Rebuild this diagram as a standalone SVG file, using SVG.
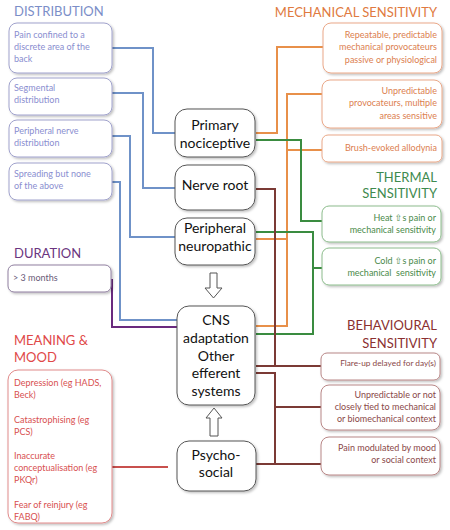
<svg xmlns="http://www.w3.org/2000/svg" width="450" height="530" viewBox="0 0 450 530">
<defs>
<filter id="sh" x="-10%" y="-10%" width="130%" height="130%">
<feDropShadow dx="1.5" dy="1.5" stdDeviation="1" flood-color="#000" flood-opacity="0.25"/>
</filter>
<style>
text{font-family:Lato,"Liberation Sans","DejaVu Sans",sans-serif}
.title{font-size:13px}
.small{font-size:9px}
.tight{font-size:8.3px}
.big{font-size:14px;fill:#111;text-anchor:middle}
.r{text-anchor:end}
rect{fill:#fff;filter:url(#sh)}
.cbox{stroke:#555;stroke-width:1}
.bl{stroke:#a0a2cc;stroke-width:1}
.blt{fill:#8a8ed0}
.pu{stroke:#8f7f9f;stroke-width:1}
.put{fill:#6a5a78}
.or{stroke:#eaa888;stroke-width:1}
.ort{fill:#dc8050}
.gr{stroke:#8cbc8c;stroke-width:1}
.grt{fill:#4a8a4a}
.br{stroke:#b88686;stroke-width:1}
.brt{fill:#8a4848}
.rd{stroke:#e08a8a;stroke-width:1}
.rdt{fill:#d85050}
#connectors path{fill:none;stroke-width:2}
.cb{stroke:#6f92c8}
.cp{stroke:#6a2a7e}
.co{stroke:#e8904a}
.cg{stroke:#3a8c40}
.cr{stroke:#7b3a35}
.cred{stroke:#c8504d}
.arrow{fill:#fff;stroke:#555;stroke-width:1}
</style>
</defs>
<rect x="0" y="0" width="450" height="530" style="fill:#fff;filter:none"/>

<g id="connectors">
<path class="cb" d="M112,48 H153 V133 H175"/>
<path class="cb" d="M112,93 H143 V188 H175"/>
<path class="cb" d="M112,136 H130 V237 H175"/>
<path class="cb" d="M112,182 H120 V320 H177"/>
<path class="cp" d="M112,279 V327 H177"/>
<path class="cred" d="M112,467 H168"/>
<path class="co" d="M256,133 H277 V47 H323"/>
<path class="co" d="M322,94 H287 V326 H256"/>
<path class="co" d="M287,150 H322"/>
<path class="co" d="M256,239 H287"/>
<path class="cg" d="M256,140 H301 V221 H322"/>
<path class="cg" d="M256,232 H313 V334 H256"/>
<path class="cg" d="M313,268 H322"/>
<path class="cr" d="M256,189 H275 V366"/>
<path class="cr" d="M256,366 H321"/>
<path class="cr" d="M256,373 H275 V464"/>
<path class="cr" d="M275,407 H321"/>
<path class="cr" d="M256,464 H321"/>
</g>

<g id="title-distribution"><text class="title" x="14" y="16" fill="#7b8ec8">DISTRIBUTION</text></g>
<g id="title-mechanical"><text class="title r" x="437" y="17" fill="#e07a40">MECHANICAL SENSITIVITY</text></g>
<g id="title-thermal"><text class="title r" x="437" y="182" fill="#3e8a4e">THERMAL</text><text class="title r" x="437" y="198" fill="#3e8a4e">SENSITIVITY</text></g>
<g id="title-duration"><text class="title" x="14" y="258" fill="#6b3580">DURATION</text></g>
<g id="title-meaning"><text class="title" x="14" y="345" fill="#e04848">MEANING &amp;</text><text class="title" x="14" y="362" fill="#e04848">MOOD</text></g>
<g id="title-behavioural"><text class="title r" x="437" y="330" fill="#8b3030">BEHAVIOURAL</text><text class="title r" x="437" y="348" fill="#8b3030">SENSITIVITY</text></g>

<g id="dist1"><rect class="bl" x="9" y="23" width="103" height="50" rx="8"/>
<text class="small blt" x="14" y="38">Pain confined to a</text><text class="small blt" x="14" y="50">discrete area of the</text><text class="small blt" x="14" y="62">back</text></g>
<g id="dist2"><rect class="bl" x="9" y="78" width="103" height="37" rx="8"/>
<text class="small blt" x="14" y="91">Segmental</text><text class="small blt" x="14" y="103">distribution</text></g>
<g id="dist3"><rect class="bl" x="9" y="120" width="103" height="37" rx="8"/>
<text class="small blt" x="14" y="134">Peripheral nerve</text><text class="small blt" x="14" y="146">distribution</text></g>
<g id="dist4"><rect class="bl" x="9" y="163" width="103" height="37" rx="8"/>
<text class="small blt" x="14" y="177">Spreading but none</text><text class="small blt" x="14" y="189">of the above</text></g>

<g id="duration1"><rect class="pu" x="8" y="265" width="103" height="27" rx="6"/>
<text class="small put" x="13" y="281">&gt; 3 months</text></g>

<g id="meaning1"><rect class="rd" x="8" y="370" width="104" height="153" rx="10"/>
<text class="small rdt" x="14" y="386">Depression (eg HADS,</text><text class="small rdt" x="14" y="398">Beck)</text>
<text class="small rdt" x="14" y="423">Catastrophising (eg</text><text class="small rdt" x="14" y="435">PCS)</text>
<text class="small rdt" x="14" y="459">Inaccurate</text><text class="small rdt" x="14" y="471">conceptualisation (eg</text><text class="small rdt" x="14" y="483">PKQr)</text>
<text class="small rdt" x="14" y="508">Fear of reinjury (eg</text><text class="small rdt" x="14" y="520">FABQ)</text></g>

<g id="primary"><rect class="cbox" x="175" y="109" width="80" height="48" rx="12"/>
<text class="big" x="215" y="130">Primary</text><text class="big" x="215" y="148">nociceptive</text></g>
<g id="nerveroot"><rect class="cbox" x="175" y="165" width="80" height="45" rx="12"/>
<text class="big" x="215" y="190">Nerve root</text></g>
<g id="peripheral"><rect class="cbox" x="175" y="218" width="80" height="47" rx="12"/>
<text class="big" x="215" y="233">Peripheral</text><text class="big" x="215" y="251">neuropathic</text></g>
<g id="cns"><rect class="cbox" x="177" y="306" width="78" height="99" rx="12"/>
<text class="big" x="216" y="325">CNS</text><text class="big" x="216" y="343">adaptation</text><text class="big" x="216" y="361">Other</text><text class="big" x="216" y="378">efferent</text><text class="big" x="216" y="396">systems</text></g>
<g id="psychosocial"><rect class="cbox" x="177" y="441" width="79" height="50" rx="12"/>
<text class="big" x="216" y="460">Psycho-</text><text class="big" x="216" y="477">social</text></g>

<g id="arrow-down"><path class="arrow" d="M210,273 H217 V288 H222 L213.5,298 L205,288 H210 Z"/></g>
<g id="arrow-up"><path class="arrow" d="M210,436 H218 V418 H222 L214,408 L206,418 H210 Z"/></g>

<g id="mech1"><rect class="or" x="323" y="23" width="119" height="50" rx="8"/>
<text class="small r ort" x="437" y="38">Repeatable, predictable</text><text class="small r ort" x="437" y="50">mechanical provocateurs</text><text class="small r ort" x="437" y="63">passive or physiological</text></g>
<g id="mech2"><rect class="or" x="322" y="80" width="120" height="48" rx="8"/>
<text class="small r ort" x="437" y="94">Unpredictable</text><text class="small r ort" x="437" y="106">provocateurs, multiple</text><text class="small r ort" x="437" y="119">areas sensitive</text></g>
<g id="mech3"><rect class="or" x="322" y="135" width="120" height="27" rx="6"/>
<text class="small r ort" x="437" y="151">Brush-evoked allodynia</text></g>

<g id="therm1"><rect class="gr" x="322" y="206" width="119" height="36" rx="7"/>
<text class="small r grt" x="436" y="221">Heat ⇧s pain or</text><text class="small r grt" x="436" y="233">mechanical sensitivity</text></g>
<g id="therm2"><rect class="gr" x="322" y="248" width="119" height="37" rx="7"/>
<text class="small r grt" x="436" y="264">Cold ⇧s pain or</text><text class="small r grt" x="436" y="276" xml:space="preserve">mechanical  sensitivity</text></g>

<g id="beh1"><rect class="br" x="321" y="353" width="119" height="27" rx="6"/>
<text class="tight r brt" x="436" y="366">Flare-up delayed for day(s)</text></g>
<g id="beh2"><rect class="br" x="321" y="385" width="119" height="45" rx="8"/>
<text class="small r brt" x="436" y="398">Unpredictable or not</text><text class="small r brt" x="436" y="410">closely tied to mechanical</text><text class="small r brt" x="436" y="422">or biomechanical context</text></g>
<g id="beh3"><rect class="br" x="321" y="437" width="119" height="38" rx="8"/>
<text class="small r brt" x="436" y="451">Pain modulated by mood</text><text class="small r brt" x="436" y="463">or social context</text></g>
</svg>
